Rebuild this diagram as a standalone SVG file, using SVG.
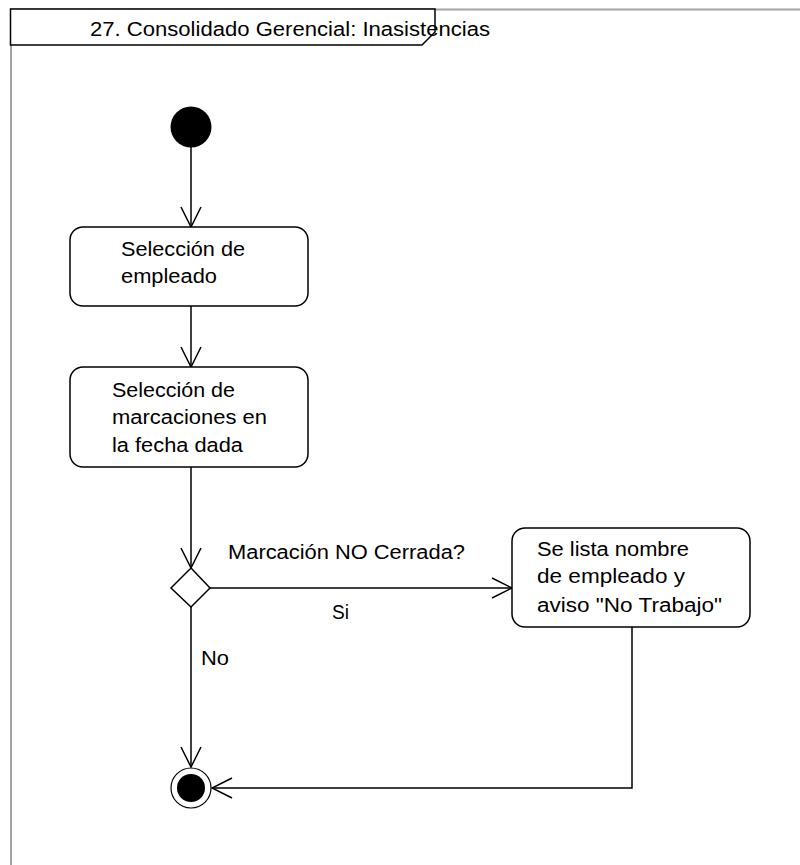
<svg xmlns="http://www.w3.org/2000/svg" width="800" height="865" viewBox="0 0 800 865">
<style>
  .frame { fill: none; stroke: #a4a4a4; stroke-width: 2; }
  .tab { fill: #ffffff; stroke: #000000; stroke-width: 1.5; }
  .act { fill: #ffffff; stroke: #000000; stroke-width: 1.5; }
  .edge { fill: none; stroke: #000000; stroke-width: 1.5; }
  .lbl { font-family: "Liberation Sans", Arial, sans-serif; font-size: 20px; fill: #000000; }
</style>
<defs>
  <marker id="open" viewBox="0 0 22 22" refX="21" refY="11" markerWidth="22" markerHeight="22" markerUnits="userSpaceOnUse" orient="auto">
    <path d="M1,1 L21,11 L1,21" fill="none" stroke="#000000" stroke-width="1.5"/>
  </marker>
</defs>
<rect width="800" height="865" fill="#ffffff"/>
<g id="frame">
  <path class="frame" d="M11,865 L11,9.5 L800,9.5"/>
  <path class="tab" d="M10.5,9 L435,9 L435,32 L422,45 L10.5,45 Z"/>
  <text class="lbl" x="90" y="36" textLength="400" lengthAdjust="spacingAndGlyphs">27. Consolidado Gerencial: Inasistencias</text>
</g>
<g id="connectors">
  <line class="edge" x1="191" y1="147" x2="191" y2="227" marker-end="url(#open)"/>
  <line class="edge" x1="191" y1="306" x2="191" y2="367" marker-end="url(#open)"/>
  <line class="edge" x1="191" y1="467" x2="191" y2="568" marker-end="url(#open)"/>
  <line class="edge" x1="210" y1="588" x2="512" y2="588" marker-end="url(#open)"/>
  <line class="edge" x1="191" y1="607" x2="191" y2="767" marker-end="url(#open)"/>
  <polyline class="edge" points="632,627 632,788 212,788" marker-end="url(#open)"/>
  <text class="lbl" x="228" y="559" textLength="237" lengthAdjust="spacingAndGlyphs">Marcación NO Cerrada?</text>
  <text class="lbl" x="332" y="619" textLength="17" lengthAdjust="spacingAndGlyphs">Si</text>
  <text class="lbl" x="201" y="665" textLength="28" lengthAdjust="spacingAndGlyphs">No</text>
</g>
<g id="start">
  <circle cx="191" cy="127" r="20.5" fill="#000000"/>
</g>
<g id="seleccion-empleado">
  <rect class="act" x="70" y="227" width="238" height="79" rx="13" ry="13"/>
  <text class="lbl" x="121" y="256" textLength="124" lengthAdjust="spacingAndGlyphs">Selección de</text>
  <text class="lbl" x="121" y="283" textLength="96" lengthAdjust="spacingAndGlyphs">empleado</text>
</g>
<g id="seleccion-marcaciones">
  <rect class="act" x="70" y="367" width="238" height="100" rx="13" ry="13"/>
  <text class="lbl" x="112" y="397" textLength="123" lengthAdjust="spacingAndGlyphs">Selección de</text>
  <text class="lbl" x="112" y="424" textLength="155" lengthAdjust="spacingAndGlyphs">marcaciones en</text>
  <text class="lbl" x="112" y="452" textLength="131" lengthAdjust="spacingAndGlyphs">la fecha dada</text>
</g>
<g id="decision">
  <polygon class="act" points="191,568 210,588 191,607 171,588"/>
</g>
<g id="lista-no-trabajo">
  <rect class="act" x="512" y="528" width="238" height="99" rx="13" ry="13"/>
  <text class="lbl" x="537" y="556" textLength="152" lengthAdjust="spacingAndGlyphs">Se lista nombre</text>
  <text class="lbl" x="537" y="583" textLength="148" lengthAdjust="spacingAndGlyphs">de empleado y</text>
  <text class="lbl" x="537" y="612" textLength="185" lengthAdjust="spacingAndGlyphs">aviso "No Trabajo"</text>
</g>
<g id="end">
  <circle cx="191" cy="788" r="20" fill="#ffffff" stroke="#000000" stroke-width="1.2"/>
  <circle cx="191" cy="788" r="14" fill="#000000"/>
</g>
</svg>
